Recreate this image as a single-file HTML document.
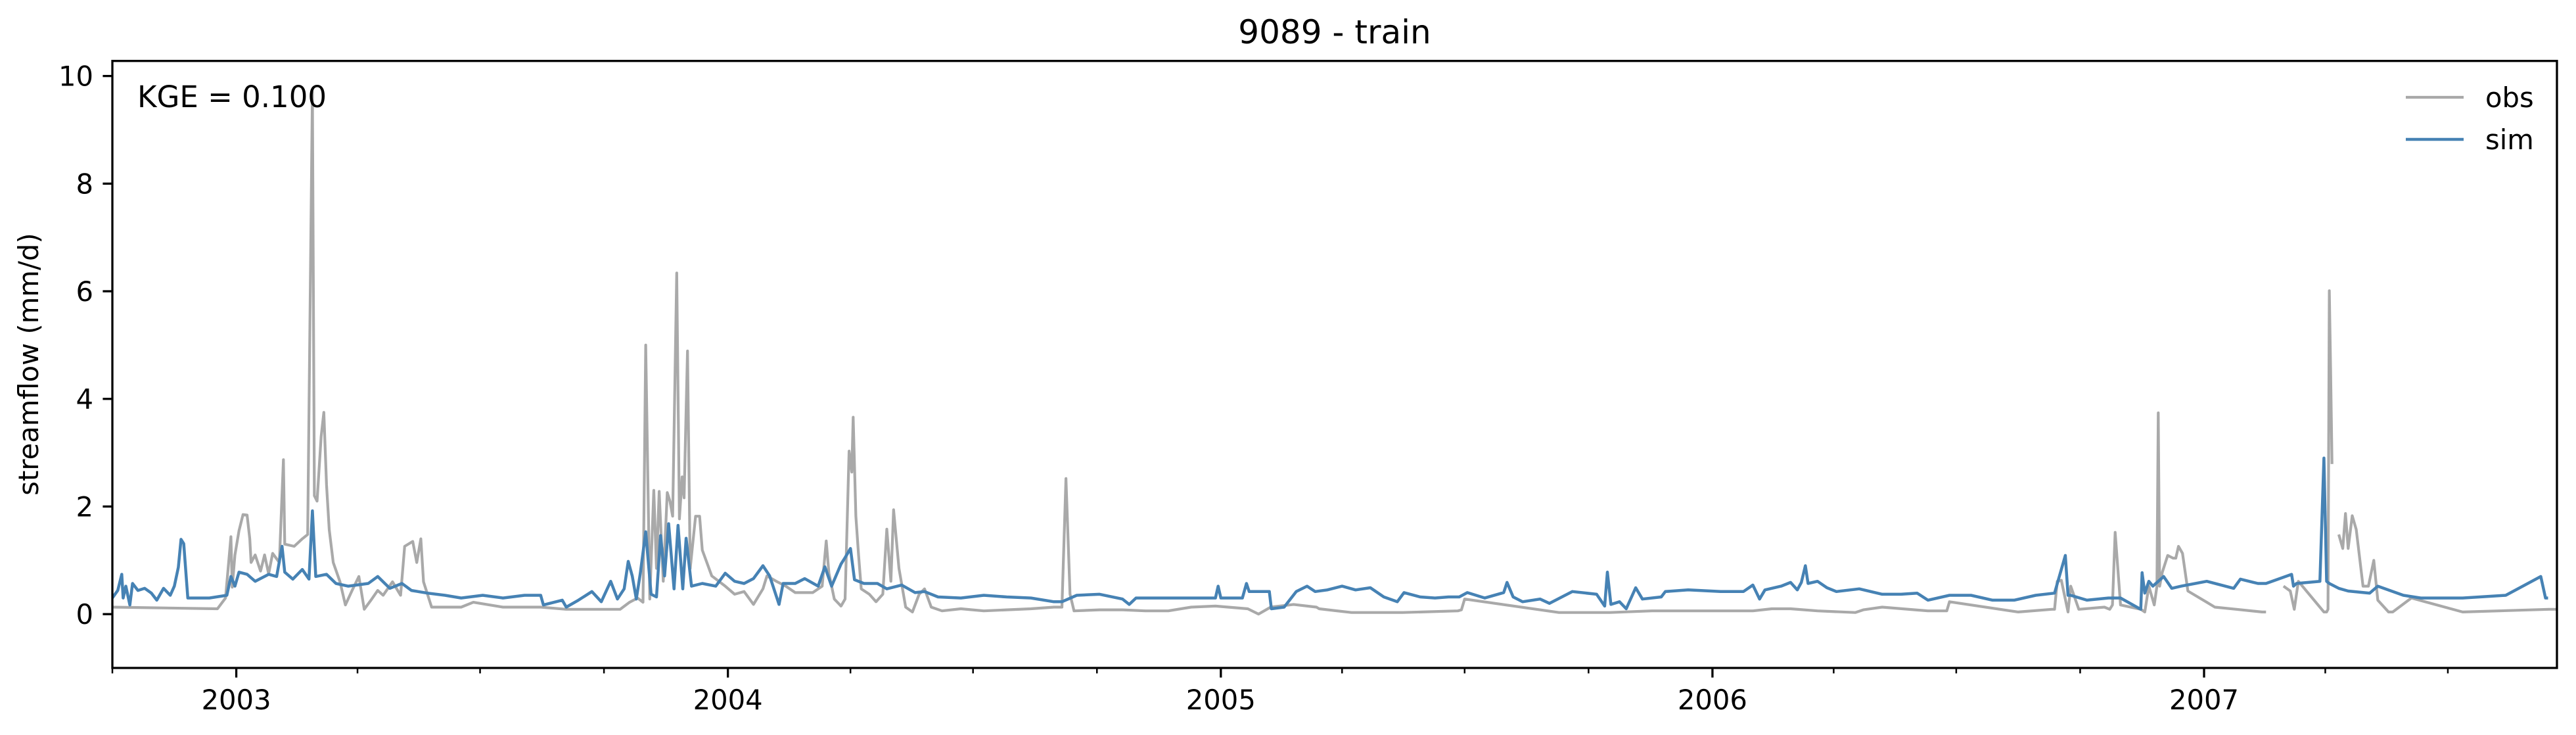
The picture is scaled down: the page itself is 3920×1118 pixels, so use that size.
<!DOCTYPE html>
<html><head><meta charset="utf-8"><title>9089 - train</title>
<style>html,body{margin:0;padding:0;background:#fff}svg{display:block}text{font-family:"DejaVu Sans","Liberation Sans",sans-serif;fill:#000}</style>
</head><body>
<svg id="chart" width="3920" height="1118" viewBox="0 0 3920 1118" xmlns="http://www.w3.org/2000/svg">
<rect x="0" y="0" width="3920" height="1118" fill="#fff"/>
<text x="2031" y="66" font-size="50" text-anchor="middle">9089 - train</text>
<text transform="translate(58,554) rotate(-90)" font-size="41.7" text-anchor="middle">streamflow (mm/d)</text>
<g id="plot"></g>
<g id="axes"></g>
<text x="209" y="163" font-size="45">KGE = 0.100</text>
<g>
<line x1="3661" y1="148" x2="3749" y2="148" stroke="#a9a9a9" stroke-width="4.2"/>
<text x="3782" y="163" font-size="41.7">obs</text>
<line x1="3661" y1="212" x2="3749" y2="212" stroke="#4682b4" stroke-width="4.5"/>
<text x="3782" y="227" font-size="41.7">sim</text>
</g>
</svg>
<script>
// days since 2002-10-01
const obsDays = [0,78,84,88,89,91,94,97,100,102,103,106,110,113,116,119,124,127,128,135,141,145,148.5,150,152,155,157,159,161,164,169,173,178,183,187,192,197,201,208,214,217,223,226,229,231,237,259,268,290,318,337,359,377,384,390,394,396,399,402,404,406,409,412,414,416,419,421,423,424.5,427,429,433,436,438,445,455,462,469,476,483,486,493,500,507,520,527,530,532,536,541,544,547,549,550,552,554,556,562,567,572,575,578,580,584,589,594,599,603,608,616,630,647,664,682,699,705,708,711,714,733,750,767,784,801,819,843,851,860,877,894,896,920,958,999,1001.6,1004,1074,1112,1143,1211,1218,1232,1246,1266,1294,1300,1314,1348,1362,1364,1415,1440,1442,1444,1447,1452,1454,1460,1479,1483,1485,1487,1491,1506,1509,1512,1516,1518,1519,1520,1522,1526,1530,1532,1534,1537,1541,1555,1561,1577,1596,1599,1602,1612,1617,1620,1623,1642,1644,1645,1646,1647,1648,1650,1653,1656,1658,1660,1663,1666,1671,1675,1679,1682,1690,1693,1707,1745,1809,1815];
const obsVals = [0.13,0.1,0.3,1.44,0.5,1.1,1.55,1.85,1.84,1.4,0.96,1.1,0.8,1.1,0.75,1.13,0.96,2.87,1.3,1.26,1.4,1.48,9.7,2.2,2.1,3.3,3.75,2.4,1.57,0.96,0.6,0.17,0.44,0.7,0.09,0.26,0.44,0.35,0.6,0.35,1.26,1.35,0.96,1.4,0.6,0.13,0.13,0.22,0.13,0.13,0.09,0.09,0.09,0.22,0.3,0.22,5.0,0.28,2.3,0.85,2.28,0.61,2.26,2.1,1.82,6.34,1.77,2.55,2.16,4.89,0.85,1.82,1.82,1.19,0.71,0.52,0.37,0.42,0.18,0.47,0.71,0.61,0.52,0.4,0.4,0.52,1.36,0.76,0.28,0.15,0.28,3.03,2.64,3.66,1.82,1.1,0.47,0.37,0.23,0.37,1.58,0.61,1.94,0.85,0.13,0.04,0.37,0.47,0.13,0.06,0.1,0.06,0.08,0.1,0.13,0.13,2.52,0.37,0.06,0.08,0.08,0.06,0.06,0.13,0.15,0.1,0.0,0.13,0.18,0.13,0.1,0.03,0.03,0.06,0.08,0.28,0.03,0.03,0.06,0.06,0.06,0.1,0.1,0.06,0.03,0.08,0.13,0.06,0.06,0.23,0.04,0.09,0.09,0.61,0.63,0.04,0.52,0.09,0.13,0.09,0.17,1.52,0.17,0.09,0.04,0.52,0.17,0.52,3.74,0.52,0.78,1.09,1.04,1.04,1.26,1.13,0.43,0.22,0.13,0.09,0.04,0.04,null,0.52,0.43,0.09,0.61,0.04,0.04,0.09,6.01,4.44,2.79,null,1.48,1.22,1.87,1.22,1.83,1.57,0.52,0.52,1.0,0.26,0.04,0.04,0.3,0.04,0.09,0.09,0.04];
const simDays = [0,4,7,8,10,13,15,19,24,29,33,38,43,46,49,51,53,56,60,72,85,88,91,94,100,106,116,122,126,128,134,141,146,148.5,151,159,166,175,190,197,206,215,222,234,247,259,275,290,306,318,320,334,337,346,356,363,370,375,380,383,386,389,392,396,400,404,407,410,413,417,420,423.5,426,430,438,448,455,462,469,476,483,488,495,498,507,514,524,529,534,541,544,548,551,558,568,575,586,596,603,613,630,647,664,682,699,705,716,733,750,755,760,784,819,821,823,839,842,844,859,860.5,870,879,887,893,902,913,923,934,944,954,959,971,982,992,1000,1006,1019,1033,1035.5,1040,1047,1060,1067,1084,1102,1108,1110,1112.6,1119,1124,1131,1136,1150,1153,1170,1194,1211,1218,1223,1227,1239,1246,1251,1254,1257,1259,1266,1273,1280,1297,1314,1328,1340,1348,1364,1380,1396,1412,1428,1442,1450,1452,1454,1466,1482,1491,1506,1507,1509,1512,1515,1523,1529,1536,1555,1575,1580,1593,1599,1618,1619.4,1621.6,1639,1642,1644,1646,1653,1660,1676,1682,1701,1714,1745,1777,1803,1806.5,1808.4,1815];
const simVals = [0.3,0.44,0.74,0.3,0.52,0.17,0.57,0.44,0.48,0.39,0.26,0.48,0.35,0.52,0.87,1.39,1.31,0.3,0.3,0.3,0.35,0.7,0.52,0.78,0.74,0.61,0.74,0.7,1.26,0.78,0.65,0.83,0.65,1.92,0.7,0.74,0.57,0.52,0.57,0.7,0.48,0.57,0.44,0.39,0.35,0.3,0.35,0.3,0.35,0.35,0.17,0.26,0.13,0.26,0.42,0.23,0.61,0.28,0.47,0.98,0.71,0.28,0.76,1.53,0.37,0.32,1.46,0.71,1.68,0.47,1.65,0.47,1.41,0.52,0.57,0.52,0.76,0.61,0.57,0.66,0.9,0.71,0.18,0.57,0.57,0.66,0.52,0.88,0.52,0.93,1.05,1.22,0.64,0.57,0.57,0.47,0.54,0.4,0.42,0.32,0.3,0.35,0.32,0.3,0.23,0.23,0.35,0.37,0.28,0.18,0.3,0.3,0.3,0.52,0.3,0.3,0.57,0.42,0.42,0.1,0.13,0.42,0.52,0.42,0.45,0.52,0.45,0.49,0.32,0.23,0.4,0.32,0.3,0.32,0.32,0.4,0.3,0.4,0.59,0.32,0.23,0.28,0.2,0.42,0.37,0.15,0.78,0.18,0.23,0.1,0.49,0.28,0.32,0.42,0.45,0.42,0.42,0.54,0.28,0.45,0.52,0.59,0.45,0.59,0.9,0.57,0.61,0.49,0.42,0.47,0.37,0.37,0.39,0.26,0.35,0.35,0.26,0.26,0.35,0.39,1.09,0.35,0.35,0.26,0.3,0.3,0.09,0.77,0.39,0.61,0.52,0.7,0.48,0.52,0.61,0.48,0.65,0.57,0.57,0.74,0.52,0.57,0.61,2.9,0.61,0.57,0.48,0.43,0.39,0.52,0.35,0.3,0.3,0.35,0.7,0.3,0.3];
const yTicks = [0,2,4,6,8,10];
const yearLabels = ["2003","2004","2005","2006","2007"];

const NS = "http://www.w3.org/2000/svg";
const X0 = 171, X1 = 3891, Y0 = 92.7, Y1 = 1016;
const D0 = 0, D1 = 1815, V0 = -1.0, V1 = 10.28;
const start = Date.UTC(2002, 9, 1);
function dayOf(y, m) { return (Date.UTC(y, m, 1) - start) / 86400000; }
function xs(d) { return X0 + (d - D0) / (D1 - D0) * (X1 - X0); }
function ys(v) { return Y1 - (v - V0) / (V1 - V0) * (Y1 - Y0); }
function mk(tag, attrs, parent) { const e = document.createElementNS(NS, tag); for (const k in attrs) e.setAttribute(k, attrs[k]); parent.appendChild(e); return e; }

const plot = document.getElementById('plot');
const axes = document.getElementById('axes');
const defs = mk('defs', {}, plot);
const cp = mk('clipPath', {id: 'clip'}, defs);
mk('rect', {x: X0, y: Y0, width: X1 - X0, height: Y1 - Y0}, cp);

function pathFor(days, vals) {
  let d = '', pen = false;
  for (let i = 0; i < days.length; i++) {
    if (vals[i] === null || vals[i] === undefined) { pen = false; continue; }
    d += (pen ? 'L' : 'M') + xs(days[i]).toFixed(1) + ' ' + ys(vals[i]).toFixed(1);
    pen = true;
  }
  return d;
}
const obsPath = mk('path', {d: pathFor(obsDays, obsVals), fill: 'none', stroke: '#a9a9a9', 'stroke-width': 4.2, 'stroke-linejoin': 'round', 'clip-path': 'url(#clip)'}, plot);


const simPath = mk('path', {d: pathFor(simDays, simVals), fill: 'none', stroke: '#4682b4', 'stroke-width': 4.5, 'stroke-linejoin': 'round', 'clip-path': 'url(#clip)'}, plot);



const frame = mk('rect', {x: X0, y: Y0, width: X1 - X0, height: Y1 - Y0, fill: 'none', stroke: '#000', 'stroke-width': 3.3}, axes);



yTicks.forEach(v => {
  const t = mk('line', {x1: X0, x2: X0 - 14.6, y1: ys(v), y2: ys(v), stroke: '#000', 'stroke-width': 3.3}, axes);
  
  
  const l = mk('text', {x: X0 - 29, y: ys(v) + 15, 'font-size': 41.7, 'text-anchor': 'end'}, axes);
  l.textContent = String(v);
  
  
});

for (let yr = 2002; yr <= 2007; yr++) {
  for (let m = 0; m < 12; m += 3) {
    const d = dayOf(yr, m);
    if (d < D0 - 0.5 || d > D1 + 0.5) continue;
    const major = (m === 0);
    const t = mk('line', {x1: xs(d), x2: xs(d), y1: Y1, y2: Y1 + (major ? 14.6 : 8.3), stroke: '#000', 'stroke-width': major ? 3.3 : 2.5}, axes);
    
    
  }
}
yearLabels.forEach(lbl => {
  const d = dayOf(parseInt(lbl, 10), 0);
  const l = mk('text', {x: xs(d), y: Y1 + 63, 'font-size': 41.7, 'text-anchor': 'middle'}, axes);
  l.textContent = lbl;
  
  
});
</script>
</body></html>
